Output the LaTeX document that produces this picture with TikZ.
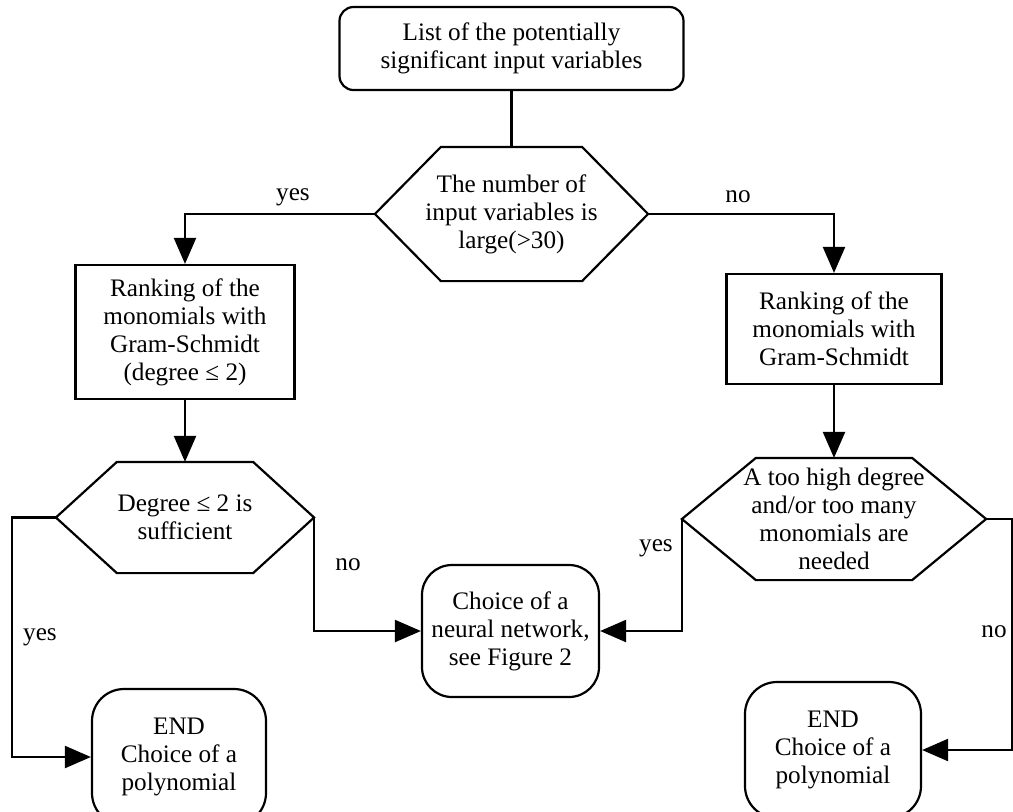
\documentclass[tikz,border=0pt]{standalone}
\usepackage{fontspec}
\setmainfont{Liberation Serif}
\usetikzlibrary{arrows.meta}
% outline of a decision node: flat top and bottom, pointed sides
\newcommand{\hexframe}[2]{\draw (#1.west) -- ([xshift=#2]#1.north west) -- ([xshift=-#2]#1.north east) -- (#1.east) -- ([xshift=-#2]#1.south east) -- ([xshift=#2]#1.south west) -- cycle;}

\begin{document}
\begin{tikzpicture}[x=0.5pt,y=-0.5pt,line width=1.1pt,
  font=\fontsize{12.6}{14}\selectfont,
  every node/.style={align=center,inner sep=0pt},
  >={Triangle[length=13pt,width=11pt]},
  rbox/.style={draw,rounded corners=#1},
  sbox/.style={draw}]
\useasboundingbox (0,0) rectangle (1013,811);

\node[rbox=7pt,minimum width=172pt,minimum height=41.5pt] (list) at (511.5,48.5) {List of the potentially\\significant input variables};

\node[minimum width=135.5pt,minimum height=66pt] (large) at (511.5,214) {The number of\\input variables is\\large(>30)};
\hexframe{large}{33pt}

\node[sbox,minimum width=109.5pt,minimum height=67pt] (rankL) at (185,332) {Ranking of the\\monomials with\\Gram-Schmidt\\(degree ≤ 2)};
\node[sbox,minimum width=107.5pt,minimum height=55pt] (rankR) at (834,329) {Ranking of the\\monomials with\\Gram-Schmidt};

\node[minimum width=128pt,minimum height=54.5pt] (deg) at (185,517.5) {Degree ≤ 2 is\\sufficient};
\hexframe{deg}{30.5pt}
\node[minimum width=151pt,minimum height=60pt] (high) at (834,519) {A too high degree\\and/or too many\\monomials are\\needed};
\hexframe{high}{37pt}

\node[rbox=15pt,minimum width=88.5pt,minimum height=66pt] (net) at (510.5,631) {Choice of a\\neural network,\\see Figure 2};

\node[rbox=16pt,minimum width=87pt,minimum height=68pt] (endL) at (179,757) {END\\Choice of a\\polynomial};
\node[rbox=16pt,minimum width=88pt,minimum height=68pt] (endR) at (833,750) {END\\Choice of a\\polynomial};

\coordinate (lft) at (12,600);
\coordinate (rgt) at (1012,600);

\draw (list.south) -- (large.north);
\draw[->] (large.west) -| (rankL.north);
\draw[->] (large.east) -| (rankR.north);
\draw[->] (rankL.south) -- (deg.north);
\draw[->] (rankR.south) -- (high.north);
\draw[->] (deg.west) -| (lft) |- (endL.west);
\draw[->] (deg.east) |- (net.west);
\draw[->] (high.west) |- (net.east);
\draw[->] (high.east) -| (rgt) |- (endR.east);

\node (yes1) at (293,197) {yes};
\node (no1) at (738,197) {no};
\node (no2) at (348,565) {no};
\node (yes2) at (40,637) {yes};
\node (yes3) at (656,548) {yes};
\node (no3) at (994,632) {no};
\end{tikzpicture}
\end{document}
